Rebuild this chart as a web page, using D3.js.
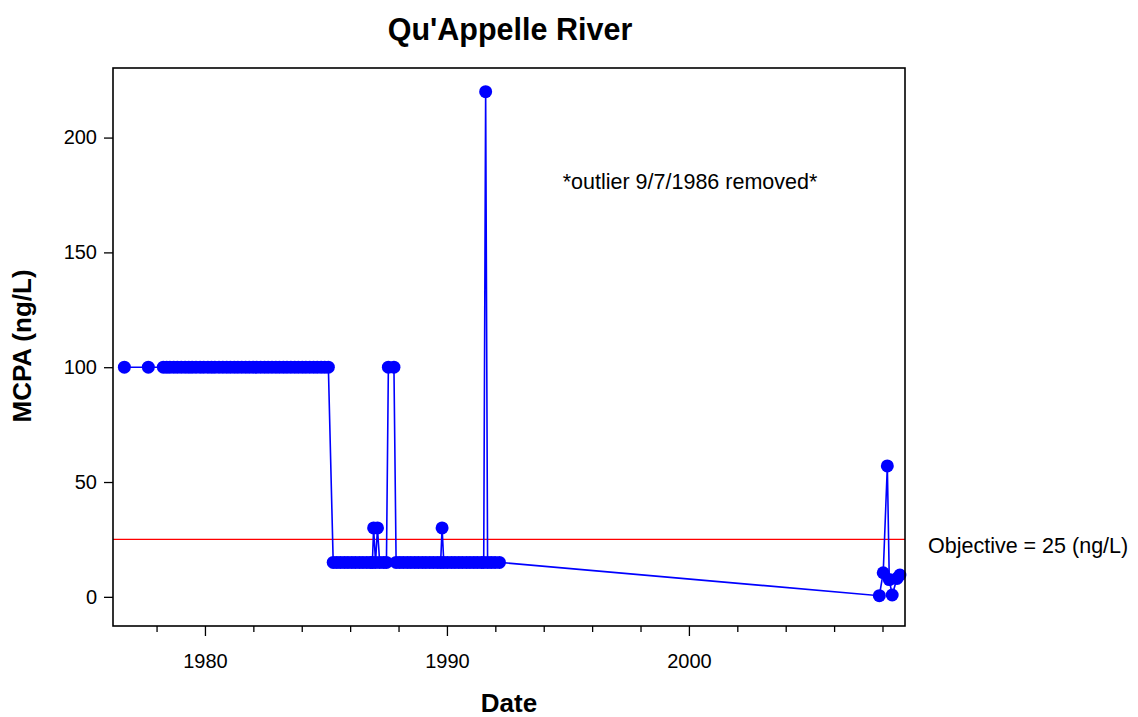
<!DOCTYPE html>
<html>
<head>
<meta charset="utf-8">
<script src="https://cdn.jsdelivr.net/npm/d3@7"></script>
<style>
  html, body { margin: 0; padding: 0; background: #fff; }
  svg { display: block; }
  text { font-family: Arial, "Liberation Sans", sans-serif; fill: #000; }
</style>
</head>
<body>
<svg id="chart" width="1138" height="717"></svg>
<script>
// ---- data (decimal year, MCPA ng/L) ----
const dates = [
  1976.67, 1977.66,
  1978.28, 1978.42, 1978.55, 1978.71, 1978.86, 1979.02, 1979.18, 1979.33, 1979.47, 1979.63,
  1979.80, 1979.95, 1980.12, 1980.27, 1980.41, 1980.58, 1980.74, 1980.90, 1981.05, 1981.21,
  1981.36, 1981.52, 1981.68, 1981.83, 1981.99, 1982.14, 1982.30, 1982.46, 1982.61, 1982.77,
  1982.93, 1983.08, 1983.24, 1983.39, 1983.55, 1983.71, 1983.86, 1984.02, 1984.17, 1984.33,
  1984.49, 1984.64, 1984.80, 1984.95, 1985.10,
  1985.30, 1985.45, 1985.60, 1985.76, 1985.91, 1986.07, 1986.22, 1986.38, 1986.53, 1986.69,
  1986.84, 1986.92, 1986.97, 1987.05, 1987.13, 1987.22, 1987.38, 1987.50, 1987.58, 1987.81,
  1987.90, 1988.05, 1988.20, 1988.36, 1988.51, 1988.67, 1988.82, 1988.98, 1989.13, 1989.29,
  1989.44, 1989.60, 1989.74, 1989.80, 1989.87, 1990.02, 1990.18, 1990.33, 1990.49, 1990.64,
  1990.80, 1990.95, 1991.11, 1991.26, 1991.42, 1991.52, 1991.60, 1991.68, 1991.83, 1991.99,
  1992.17,
  2007.87, 2008.03, 2008.20, 2008.28, 2008.40, 2008.60, 2008.72
];
const values = [
  100, 100,
  100, 100, 100, 100, 100, 100, 100, 100, 100, 100,
  100, 100, 100, 100, 100, 100, 100, 100, 100, 100,
  100, 100, 100, 100, 100, 100, 100, 100, 100, 100,
  100, 100, 100, 100, 100, 100, 100, 100, 100, 100,
  100, 100, 100, 100, 100,
  15, 15, 15, 15, 15, 15, 15, 15, 15, 15,
  15, 15, 30, 15, 30, 15, 15, 15, 100, 100,
  15, 15, 15, 15, 15, 15, 15, 15, 15, 15,
  15, 15, 15, 30, 15, 15, 15, 15, 15, 15,
  15, 15, 15, 15, 15, 15, 220, 15, 15, 15,
  15,
  0.5, 10.5, 57, 7.5, 0.8, 8, 9.5
];
const xMajorTicks = [1980, 1990, 2000];
const xMinorTicks = [1978, 1982, 1984, 1986, 1988, 1992, 1994, 1996, 1998, 2002, 2004, 2006, 2008];
const yTicks = [0, 50, 100, 150, 200];
const objectiveValue = 25;
const titleText = "Qu'Appelle River";
const xLabel = "Date";
const yLabel = "MCPA (ng/L)";
const noteText = "*outlier 9/7/1986 removed*";
const objectiveText = "Objective = 25 (ng/L)";

// ---- layout ----
const L = 113, R = 905, T = 68, B = 626;
const FONT = "Arial, 'Liberation Sans', sans-serif";
const svg = d3.select("#chart");
const x = d3.scaleLinear().domain([1976.2, 2008.93]).range([L, R]);
const y = d3.scaleLinear().domain([-12.7, 230.3]).range([B, T]);

const pts = dates.map((d, i) => ({ d, v: values[i] }));

// objective line
svg.append("line")
  .attr("x1", L).attr("x2", R)
  .attr("y1", y(objectiveValue)).attr("y2", y(objectiveValue))
  .attr("stroke", "#ff0000").attr("stroke-width", 1.2);

// series line
svg.append("path")
  .datum(pts)
  .attr("fill", "none")
  .attr("stroke", "#0000ff")
  .attr("stroke-width", 1.6)
  .attr("d", d3.line().x(p => x(p.d)).y(p => y(p.v)));

// markers
svg.append("g").selectAll("circle")
  .data(pts).join("circle")
  .attr("cx", p => x(p.d)).attr("cy", p => y(p.v))
  .attr("r", 6.5).attr("fill", "#0000ff");

// frame
svg.append("rect")
  .attr("x", L).attr("y", T).attr("width", R - L).attr("height", B - T)
  .attr("fill", "none").attr("stroke", "#000").attr("stroke-width", 1.6);

// x axis
const gx = svg.append("g").attr("transform", `translate(0,${B})`)
  .call(d3.axisBottom(x).tickValues(xMajorTicks).tickFormat(d3.format("d")).tickSize(10).tickPadding(18));
gx.select(".domain").remove();
gx.selectAll("line").attr("stroke", "#000").attr("stroke-width", 1.3);
gx.selectAll("text").attr("font-size", 20).style("font-family", FONT);
const gxm = svg.append("g").attr("transform", `translate(0,${B})`)
  .call(d3.axisBottom(x).tickValues(xMinorTicks).tickFormat("").tickSize(6));
gxm.select(".domain").remove();
gxm.selectAll("line").attr("stroke", "#000").attr("stroke-width", 1.3);

// y axis
const gy = svg.append("g").attr("transform", `translate(${L},0)`)
  .call(d3.axisLeft(y).tickValues(yTicks).tickSize(9).tickPadding(7));
gy.select(".domain").remove();
gy.selectAll("line").attr("stroke", "#000").attr("stroke-width", 1.3);
gy.selectAll("text").attr("font-size", 20).style("font-family", FONT);

// texts
svg.append("text").attr("x", 510).attr("y", 40).attr("text-anchor", "middle")
  .attr("font-size", 30.5).attr("font-weight", "bold").text(titleText);
svg.append("text").attr("x", 509).attr("y", 712).attr("text-anchor", "middle")
  .attr("font-size", 26).attr("font-weight", "bold").text(xLabel);
svg.append("text").attr("transform", `translate(31,346) rotate(-90)`).attr("text-anchor", "middle")
  .attr("font-size", 26).attr("font-weight", "bold").text(yLabel);
svg.append("text").attr("x", 690).attr("y", 189).attr("text-anchor", "middle")
  .attr("font-size", 21.5).text(noteText);
svg.append("text").attr("x", 928).attr("y", 553)
  .attr("font-size", 21.5).text(objectiveText);
</script>
</body>
</html>
